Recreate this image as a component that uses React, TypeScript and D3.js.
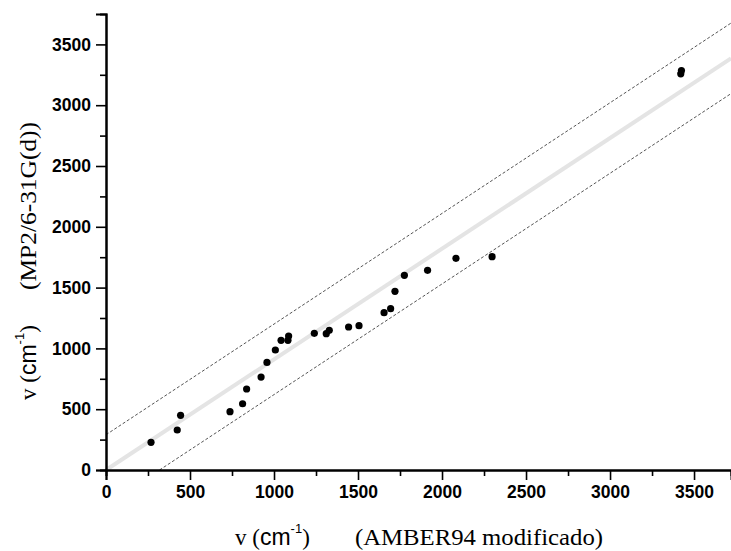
import React, { useRef, useEffect } from "react";
import { select, axisBottom, axisLeft, scaleLinear, line, range } from "d3";

// frequencies (cm-1): AMBER94 modificado vs MP2/6-31G(d)
const amberFreq = [268, 424, 444, 738, 813, 837, 923, 958, 1008, 1042, 1087, 1083, 1240, 1311, 1329, 1444, 1506, 1655, 1694, 1720, 1776, 1914, 2083, 2298, 3421, 3425];
const mp2Freq = [228, 329, 450, 480, 545, 666, 764, 885, 987, 1066, 1102, 1066, 1124, 1121, 1149, 1176, 1187, 1294, 1327, 1469, 1601, 1642, 1741, 1754, 3258, 3285];

// linear fit and band
const fitSlope = 0.91;
const fitIntercept = 0;
const bandHalfWidth = 290;

const majorTicks = [0, 500, 1000, 1500, 2000, 2500, 3000, 3500];
const xMax = 3720;
const yMax = 3750;

const width = 731;
const height = 551;
const margin = { top: 14, right: 0, bottom: 81, left: 106 };

export default function App() {
  const svgRef = useRef(null);

  const xScale = scaleLinear().domain([0, xMax]).range([margin.left, width - margin.right]);
  const yScale = scaleLinear().domain([0, yMax]).range([height - margin.bottom, margin.top]);

  useEffect(() => {
    const svg = select(svgRef.current);
    const minor = range(250, 3750, 500);

    const xMinor = axisBottom(xScale).tickValues(minor).tickSize(6).tickFormat(() => "");
    const xMajor = axisBottom(xScale).tickValues(majorTicks).tickSize(10).tickPadding(6).tickFormat((d) => String(d));
    const yMinor = axisLeft(yScale).tickValues(minor).tickSize(6).tickFormat(() => "");
    const yMajor = axisLeft(yScale).tickValues(majorTicks).tickSize(10).tickPadding(5).tickFormat((d) => String(d));

    const y0 = yScale(0);
    svg.select(".x-minor").attr("transform", `translate(0 ${y0})`).call(xMinor);
    svg.select(".x-major").attr("transform", `translate(0 ${y0})`).call(xMajor);
    svg.select(".y-minor").attr("transform", `translate(${xScale(0)} 0)`).call(yMinor);
    svg.select(".y-major").attr("transform", `translate(${xScale(0)} 0)`).call(yMajor);

    svg.selectAll(".axis path.domain").attr("stroke", "#000").attr("stroke-width", 2);
    svg.selectAll(".axis .tick line").attr("stroke", "#000").attr("stroke-width", 1.6);
    svg
      .selectAll(".axis text")
      .attr("font-family", "'Liberation Sans', Arial, sans-serif")
      .attr("font-weight", "bold")
      .attr("font-size", 17.5)
      .attr("fill", "#000");
  }, []);

  const fitLine = line<number>()
    .x((d) => xScale(d))
    .y((d) => yScale(fitSlope * d + fitIntercept));
  const upperLine = line<number>()
    .x((d) => xScale(d))
    .y((d) => yScale(fitSlope * d + fitIntercept + bandHalfWidth));
  const lowerLine = line<number>()
    .x((d) => xScale(d))
    .y((d) => yScale(fitSlope * d + fitIntercept - bandHalfWidth));
  const lowerStart = (bandHalfWidth - fitIntercept) / fitSlope;

  const serif = "'Liberation Serif', 'Times New Roman', serif";
  const sans = "'Liberation Sans', Arial, sans-serif";

  const unitLabel = (
    <>
      <tspan fontFamily={serif}>v (</tspan>
      <tspan fontFamily={sans}>cm</tspan>
      <tspan fontFamily={sans} fontSize={13} dy={-12}>-1</tspan>
      <tspan fontFamily={serif} dy={12}>)</tspan>
    </>
  );

  return (
    <svg ref={svgRef} width={width} height={height} style={{ position: "absolute", left: 0, top: 0, background: "#fff" }}>
      <path d={fitLine([0, xMax]) || ""} fill="none" stroke="#e4e4e4" strokeWidth={4} />
      <path d={upperLine([0, xMax]) || ""} fill="none" stroke="#555" strokeWidth={1} strokeDasharray="3 2" />
      <path d={lowerLine([lowerStart, xMax]) || ""} fill="none" stroke="#555" strokeWidth={1} strokeDasharray="3 2" />

      <g className="axis x-minor" />
      <g className="axis x-major" />
      <g className="axis y-minor" />
      <g className="axis y-major" />

      <g>
        {amberFreq.map((v, i) => (
          <circle key={i} cx={xScale(v)} cy={yScale(mp2Freq[i])} r={3.6} fill="#000" />
        ))}
      </g>

      <text x={235} y={545} fontSize={23} fill="#000">
        {unitLabel}
      </text>
      <text x={355} y={545} fontSize={23} fontFamily={serif} fill="#000" textLength={248} lengthAdjust="spacingAndGlyphs">
        (AMBER94 modificado)
      </text>

      <text transform="translate(36 400) rotate(-90)" fontSize={23} fill="#000">
        {unitLabel}
      </text>
      <text transform="translate(36 290) rotate(-90)" fontSize={23} fontFamily={serif} fill="#000" textLength={168} lengthAdjust="spacingAndGlyphs">
        (MP2/6-31G(d))
      </text>
    </svg>
  );
}
